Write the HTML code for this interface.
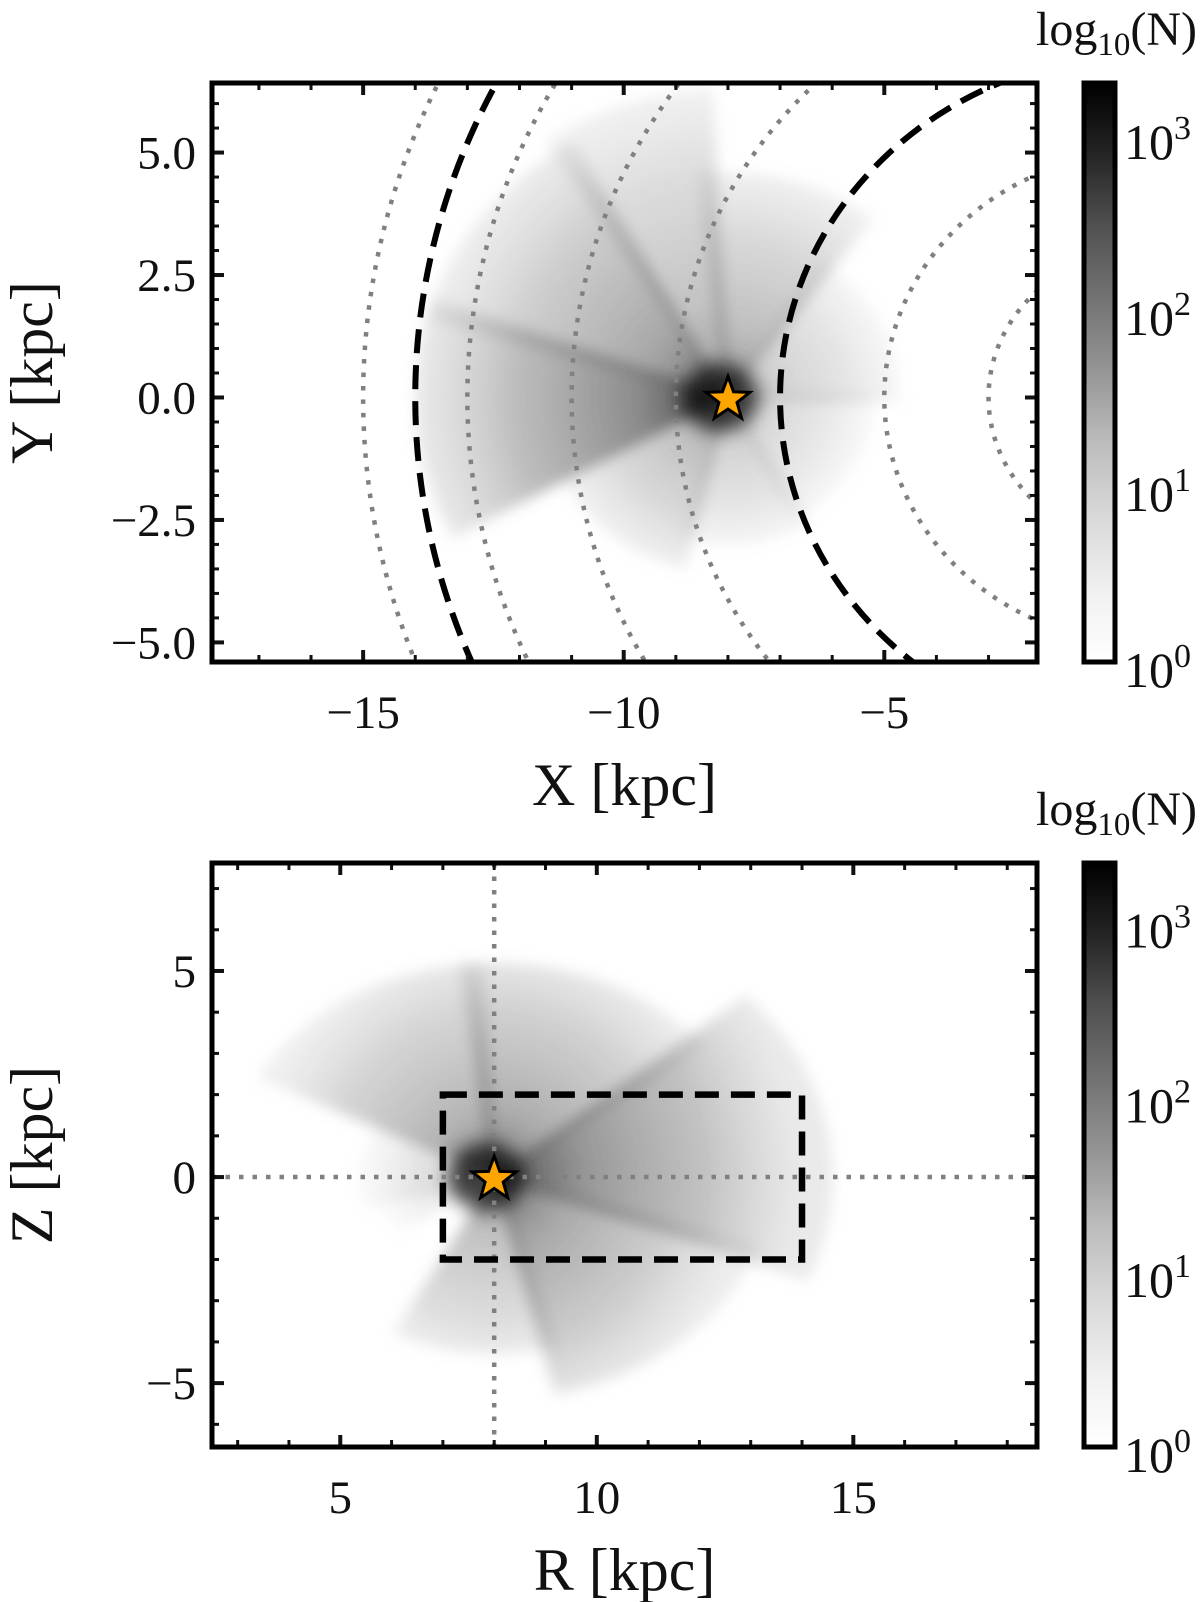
<!DOCTYPE html>
<html><head><meta charset="utf-8"><style>
html,body{margin:0;padding:0;background:#fff}
svg{display:block}
text{font-family:"Liberation Serif","DejaVu Serif",serif;fill:#111}
</style></head><body>
<svg id="fig" width="1200" height="1602" viewBox="0 0 1200 1602" xmlns="http://www.w3.org/2000/svg">
<defs>
<filter id="blur" x="-20%" y="-20%" width="140%" height="140%"><feGaussianBlur stdDeviation="7"/></filter>
<filter id="blur2" x="-50%" y="-50%" width="200%" height="200%"><feGaussianBlur stdDeviation="9"/></filter>
<clipPath id="clipTop"><rect x="212" y="83" width="825" height="579"/></clipPath>
<clipPath id="clipBot"><rect x="212" y="863" width="825" height="584"/></clipPath>
<linearGradient id="cbar" x1="0" y1="1" x2="0" y2="0">
<stop offset="0" stop-color="#ffffff"/><stop offset="0.125" stop-color="#f0f0f0"/><stop offset="0.25" stop-color="#d9d9d9"/><stop offset="0.375" stop-color="#bdbdbd"/><stop offset="0.5" stop-color="#969696"/><stop offset="0.625" stop-color="#737373"/><stop offset="0.75" stop-color="#525252"/><stop offset="0.875" stop-color="#252525"/><stop offset="1" stop-color="#000000"/>
</linearGradient>
</defs>
<g id="top"></g>
<g id="bot"></g>
</svg>
<script>
// ---------- data ----------
const topXTicks = [-15, -10, -5];
const topXTickLabels = ["\u221215", "\u221210", "\u22125"];
const topYTicks = [5.0, 2.5, 0.0, -2.5, -5.0];
const topYTickLabels = ["5.0", "2.5", "0.0", "\u22122.5", "\u22125.0"];
const topDashedRadii = [7, 14];
const topDottedRadii = [3, 5, 9, 11, 13, 15];
const sunXY = [-8, 0];
// density wedges from the sun (angle deg CCW from +X, length kpc, opacity)
const topWedgeStart = [95, 122, 163, 207, 255, 300, 0, 55];
const topWedgeEnd = [122, 163, 207, 255, 300, 360, 55, 95];
const topWedgeLen = [6.3, 6.0, 6.0, 3.6, 3.0, 2.8, 3.3, 4.6];
const topWedgeOpacity = [0.42, 0.6, 0.8, 0.45, 0.32, 0.28, 0.32, 0.45];

const botXTicks = [5, 10, 15];
const botXTickLabels = ["5", "10", "15"];
const botYTicks = [5, 0, -5];
const botYTickLabels = ["5", "0", "\u22125"];
const sunRZ = [8, 0];
const boxR = [7, 14];
const boxZ = [-2, 2];
const botWedgeStart = [95, 40, -20, -75, -115, 150, 195];
const botWedgeEnd = [150, 95, 40, -20, -75, 195, 215];
const botWedgeLen = [5.2, 5.2, 6.6, 5.4, 4.3, 2.6, 2.3];
const botWedgeOpacity = [0.5, 0.55, 0.72, 0.6, 0.42, 0.3, 0.2];

const cbTicks = [0, 1, 2, 3];
const cbTickLabels = ["0", "1", "2", "3"];
const cbTopMaxLog = 3.29;
const cbBotMaxLog = 3.34;

// ---------- helpers ----------
const NS = "http://www.w3.org/2000/svg";
function mk(tag, attrs, parent) {
  const e = document.createElementNS(NS, tag);
  for (const k in attrs) e.setAttribute(k, attrs[k]);
  if (parent) parent.appendChild(e);
  return e;
}
function axis(x0, x1, p0, p1) { return v => p0 + (v - x0) / (x1 - x0) * (p1 - p0); }

function panel(g, o) {
  const sx = axis(o.xmin, o.xmax, o.L, o.R), sy = axis(o.ymin, o.ymax, o.B, o.T);
  const dens = mk("g", {"clip-path": o.clip}, g);
  
  
  const blurG = mk("g", {filter: "url(#blur)"}, dens);
  const cx = sx(o.sun[0]), cy = sy(o.sun[1]);
  for (let i = 0; i < o.ws.length; i++) {
    const id = o.id + "g" + i;
    const rpx = o.wl[i] * (Math.abs(sx(1) - sx(0)) + Math.abs(sy(1) - sy(0))) / 2;
    const gr = mk("radialGradient", {id: id, gradientUnits: "userSpaceOnUse", cx: cx, cy: cy, r: rpx}, document.querySelector("defs"));
    mk("stop", {offset: 0, "stop-color": "#000", "stop-opacity": 1}, gr);
    mk("stop", {offset: 0.1, "stop-color": "#222", "stop-opacity": 0.95}, gr);
    mk("stop", {offset: 0.3, "stop-color": "#555", "stop-opacity": 0.85}, gr);
    mk("stop", {offset: 0.7, "stop-color": "#888", "stop-opacity": 0.7}, gr);
    mk("stop", {offset: 1, "stop-color": "#aaa", "stop-opacity": 0.35}, gr);
    let d = "M" + cx + "," + cy;
    for (let a = o.ws[i] - 2.5; a <= o.we[i] + 2.51; a += 1.5) {
      const r = a * Math.PI / 180;
      d += " L" + sx(o.sun[0] + o.wl[i] * Math.cos(r)) + "," + sy(o.sun[1] + o.wl[i] * Math.sin(r));
    }
    d += "Z";
    const p = mk("path", {d: d, fill: "url(#" + id + ")", opacity: o.wo[i]}, blurG);
    
    
  }
  const core = mk("ellipse", {cx: cx - 8, cy: cy, rx: 38, ry: 34, fill: "#000", opacity: 0.7, filter: "url(#blur2)"}, dens);
  
  
  o.extra(dens, sx, sy);
  const pts = [];
  for (let k = 0; k < 10; k++) {
    const r = k % 2 ? 9.5 : 23, a = -Math.PI / 2 + k * Math.PI / 5;
    pts.push((cx + r * Math.cos(a)).toFixed(1) + "," + (cy + 2 + r * Math.sin(a)).toFixed(1));
  }
  const st = mk("polygon", {points: pts.join(" "), fill: "#ffa500", stroke: "#000", "stroke-width": 3}, g);
  
  
  const tg = mk("g", {stroke: "#111"}, g);
  
  
  for (let v = Math.ceil(o.xmin / o.xminor) * o.xminor; v <= o.xmax; v += o.xminor) {
    const maj = Math.abs(v / o.xmajor - Math.round(v / o.xmajor)) < 1e-6, len = maj ? 12 : 7, x = sx(v);
    mk("line", {x1: x, x2: x, y1: o.B, y2: o.B - len, "stroke-width": maj ? 4 : 3}, tg);
    mk("line", {x1: x, x2: x, y1: o.T, y2: o.T + len, "stroke-width": maj ? 4 : 3}, tg);
  }
  for (let v = Math.ceil(o.ymin / o.yminor) * o.yminor; v <= o.ymax; v += o.yminor) {
    const maj = Math.abs(v / o.ymajor - Math.round(v / o.ymajor)) < 1e-6, len = maj ? 12 : 7, y = sy(v);
    mk("line", {x1: o.L, x2: o.L + len, y1: y, y2: y, "stroke-width": maj ? 4 : 3}, tg);
    mk("line", {x1: o.R, x2: o.R - len, y1: y, y2: y, "stroke-width": maj ? 4 : 3}, tg);
  }
  const fr = mk("rect", {x: o.L, y: o.T, width: o.R - o.L, height: o.B - o.T, fill: "none", stroke: "#000", "stroke-width": 5}, g);
  
  
  o.xt.forEach((v, i) => {
    const t = mk("text", {x: sx(v), y: o.B + 66, "text-anchor": "middle", "font-size": 47}, g);
    t.textContent = o.xtl[i];
    
    
  });
  o.yt.forEach((v, i) => {
    const t = mk("text", {x: o.L - 16, y: sy(v) + 16, "text-anchor": "end", "font-size": 47}, g);
    t.textContent = o.ytl[i];
    
    
  });
  const xl = mk("text", {x: (o.L + o.R) / 2, y: o.B + 143, "text-anchor": "middle", "font-size": 60}, g);
  xl.textContent = o.xlabel;
  
  
  const ymid = (o.T + o.B) / 2;
  const yl = mk("text", {x: 52, y: ymid, "text-anchor": "middle", "font-size": 60, transform: "rotate(-90 52 " + ymid + ")"}, g);
  yl.textContent = o.ylabel;
  
  
  const cb = mk("g", {}, g);
  
  
  mk("rect", {x: 1084, y: o.T, width: 31, height: o.B - o.T, fill: "url(#cbar)", stroke: "#000", "stroke-width": 5}, cb);
  const cs = axis(0, o.cbmax, o.B, o.T);
  cbTicks.forEach((v, i) => {
    const t = mk("text", {x: 1124, y: cs(v) + 25, "font-size": 50}, cb);
    t.textContent = "10";
    const s = mk("tspan", {"font-size": 34, dy: -20}, t);
    s.textContent = cbTickLabels[i];
    
    
  });
  const ct = mk("text", {x: 1197, y: o.T - 38, "text-anchor": "end", "font-size": 48}, cb);
  ct.textContent = "log";
  const sb = mk("tspan", {"font-size": 33, dy: 10}, ct); sb.textContent = "10";
  const rest = mk("tspan", {dy: -10}, ct); rest.textContent = "(N)";
  
  
}

panel(document.getElementById("top"), {
  id: "t", L: 212, R: 1037, T: 83, B: 662, xmin: -17.9, xmax: -2.07, ymin: -5.4, ymax: 6.42,
  xminor: 1, xmajor: 5, yminor: 0.5, ymajor: 2.5, clip: "url(#clipTop)", sun: sunXY,
  ws: topWedgeStart, we: topWedgeEnd, wl: topWedgeLen, wo: topWedgeOpacity,
  xt: topXTicks, xtl: topXTickLabels, yt: topYTicks, ytl: topYTickLabels,
  xlabel: "X [kpc]", ylabel: "Y [kpc]", cbmax: cbTopMaxLog,
  extra: (g, sx, sy) => {
    const cx = sx(0), cy = sy(0), kx = sx(1) - sx(0), ky = sy(0) - sy(1);
    topDottedRadii.forEach(r => {
      const e = mk("ellipse", {cx: cx, cy: cy, rx: r * kx, ry: r * ky, fill: "none", stroke: "#808080", "stroke-width": 4.5, "stroke-dasharray": "4.5 9"}, g);
      
      
    });
    topDashedRadii.forEach(r => {
      const e = mk("ellipse", {cx: cx, cy: cy, rx: r * kx, ry: r * ky, fill: "none", stroke: "#000", "stroke-width": 6, "stroke-dasharray": "24 12"}, g);
      
      
    });
  }
});

panel(document.getElementById("bot"), {
  id: "b", L: 212, R: 1037, T: 863, B: 1447, xmin: 2.5, xmax: 18.58, ymin: -6.55, ymax: 7.62,
  xminor: 1, xmajor: 5, yminor: 1, ymajor: 5, clip: "url(#clipBot)", sun: sunRZ,
  ws: botWedgeStart, we: botWedgeEnd, wl: botWedgeLen, wo: botWedgeOpacity,
  xt: botXTicks, xtl: botXTickLabels, yt: botYTicks, ytl: botYTickLabels,
  xlabel: "R [kpc]", ylabel: "Z [kpc]", cbmax: cbBotMaxLog,
  extra: (g, sx, sy) => {
    const v = mk("line", {x1: sx(sunRZ[0]), x2: sx(sunRZ[0]), y1: 863, y2: 1447, stroke: "#808080", "stroke-width": 4.5, "stroke-dasharray": "4.5 9"}, g);
    
    
    const h = mk("line", {x1: 212, x2: 1037, y1: sy(0), y2: sy(0), stroke: "#808080", "stroke-width": 4.5, "stroke-dasharray": "4.5 9"}, g);
    
    
    const b = mk("rect", {x: sx(boxR[0]), y: sy(boxZ[1]), width: sx(boxR[1]) - sx(boxR[0]), height: sy(boxZ[0]) - sy(boxZ[1]), fill: "none", stroke: "#000", "stroke-width": 6.5, "stroke-dasharray": "24 12"}, g);
    
    
  }
});
</script>
</body></html>
